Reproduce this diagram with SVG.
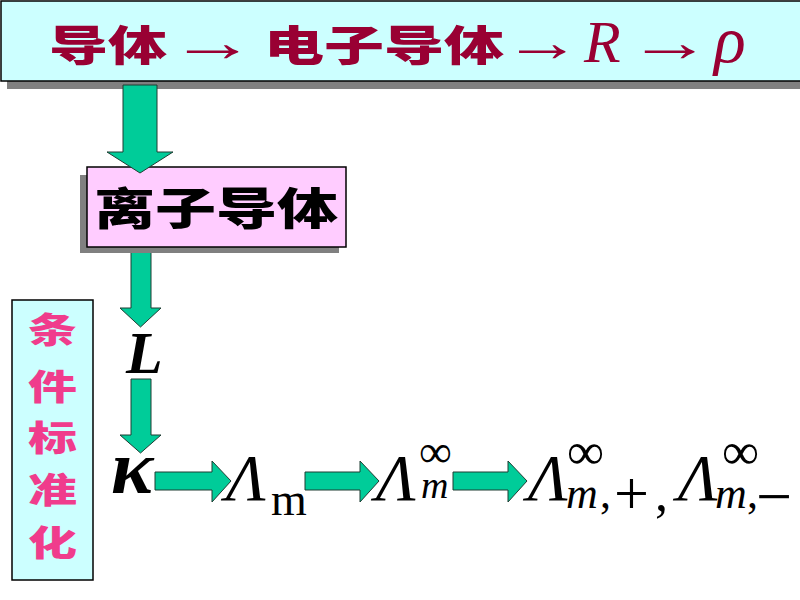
<svg xmlns="http://www.w3.org/2000/svg" width="800" height="600" viewBox="0 0 800 600">
<style>
.cjk{font-family:"Noto Sans CJK SC","Noto Sans",sans-serif;font-weight:900}
.top{fill:#990033}
.ser{font-family:"Liberation Serif","DejaVu Serif",serif}
.it{font-style:italic}
.arr{fill:#00CC99;stroke:#1f3d33;stroke-width:1}
.shadow{fill:#808080}
</style>
<rect width="800" height="600" fill="#ffffff"/>

<g id="header">
  <rect class="shadow" x="7" y="9" width="800" height="80"/>
  <rect x="1" y="1" width="806" height="80" fill="#CCFFFF" stroke="#000" stroke-width="1.5"/>
  <text class="cjk top" x="49" y="61" font-size="42" textLength="118" lengthAdjust="spacingAndGlyphs">导体</text>
  <text class="ser top" transform="translate(213,61) scale(1.55,1)" x="0" y="0" font-size="56" text-anchor="middle">→</text>
  <text class="cjk top" x="264" y="61" font-size="42" textLength="240" lengthAdjust="spacingAndGlyphs">电子导体</text>
  <text class="ser top" transform="translate(542,61) scale(1.4,1)" x="0" y="0" font-size="56" text-anchor="middle">→</text>
  <text class="ser it top" x="584" y="62" font-size="60">R</text>
  <text class="ser top" transform="translate(670,61) scale(1.5,1)" x="0" y="0" font-size="56" text-anchor="middle">→</text>
  <text class="ser it top" x="714" y="62" font-size="66">ρ</text>
</g>

<g id="sidebar">
  <rect x="12" y="300" width="81" height="280" fill="#CCFFFF" stroke="#000" stroke-width="1.5"/>
  <g class="cjk" fill="#F03C8C" font-size="35">
    <text x="28" y="343" textLength="49" lengthAdjust="spacingAndGlyphs">条</text>
    <text x="28" y="400" textLength="49" lengthAdjust="spacingAndGlyphs">件</text>
    <text x="28" y="451" textLength="49" lengthAdjust="spacingAndGlyphs">标</text>
    <text x="28" y="503" textLength="49" lengthAdjust="spacingAndGlyphs">准</text>
    <text x="28" y="556" textLength="49" lengthAdjust="spacingAndGlyphs">化</text>
  </g>
</g>

<g id="connectors">
  <path class="arr" d="M131,246 H151 V308 H161 L140.5,327 L120,308 H131 Z"/>
  <path class="arr" d="M131,379 H151 V435 H161 L140.5,453 L120,435 H131 Z"/>
  <path class="arr" d="M155,472 H212 V461 L231,481 L212,502 V490 H155 Z"/>
  <path class="arr" d="M305,472 H360 V461 L379,481 L360,502 V490 H305 Z"/>
  <path class="arr" d="M453,472 H508 V461 L527,481 L508,502 V490 H453 Z"/>
</g>

<g id="ionic">
  <rect class="shadow" x="80" y="175" width="259" height="78"/>
  <rect x="87" y="167" width="259" height="80" fill="#FFCCFF" stroke="#000" stroke-width="1.5"/>
  <text class="cjk" x="94" y="225" font-size="44" fill="#000" textLength="244" lengthAdjust="spacingAndGlyphs">离子导体</text>
</g>

<g id="arrow-top">
  <path class="arr" d="M123,85 H157 V152 H173 L140,173 L107,152 H123 Z"/>
</g>

<g id="L">
  <text class="ser it" x="126" y="373" font-size="60" font-weight="bold" fill="#000">L</text>
</g>

<g id="kappa">
  <text class="ser it" x="111" y="493" font-size="76" font-weight="bold" fill="#000" textLength="42" lengthAdjust="spacingAndGlyphs">κ</text>
</g>

<g id="lambda-m">
  <text class="ser it" x="226" y="500" font-size="66" fill="#000">Λ</text>
  <text class="ser" x="271" y="515" font-size="46" fill="#000">m</text>
</g>

<g id="lambda-m-inf">
  <text class="ser it" x="376" y="500" font-size="66" fill="#000">Λ</text>
  <text class="ser" x="419" y="467" font-size="46" fill="#000">∞</text>
  <text class="ser it" x="421" y="498" font-size="38" fill="#000">m</text>
</g>

<g id="lambda-ions">
  <text class="ser it" x="528" y="500" font-size="66" fill="#000">Λ</text>
  <text class="ser" x="567" y="469" font-size="52" fill="#000">∞</text>
  <text class="ser it" x="566" y="508" font-size="44" fill="#000">m</text>
  <text class="ser" x="600" y="508" font-size="44" fill="#000">,</text>
  <text class="ser" x="614" y="514" font-size="62" fill="#000">+</text>
  <text class="ser" x="655" y="510" font-size="52" fill="#000">,</text>
  <text class="ser it" x="678" y="500" font-size="66" fill="#000">Λ</text>
  <text class="ser" x="722" y="469" font-size="52" fill="#000">∞</text>
  <text class="ser it" x="715" y="508" font-size="44" fill="#000">m</text>
  <text class="ser" x="747" y="508" font-size="44" fill="#000">,</text>
  <text class="ser" x="756" y="518" font-size="64" fill="#000">−</text>
</g>
</svg>
